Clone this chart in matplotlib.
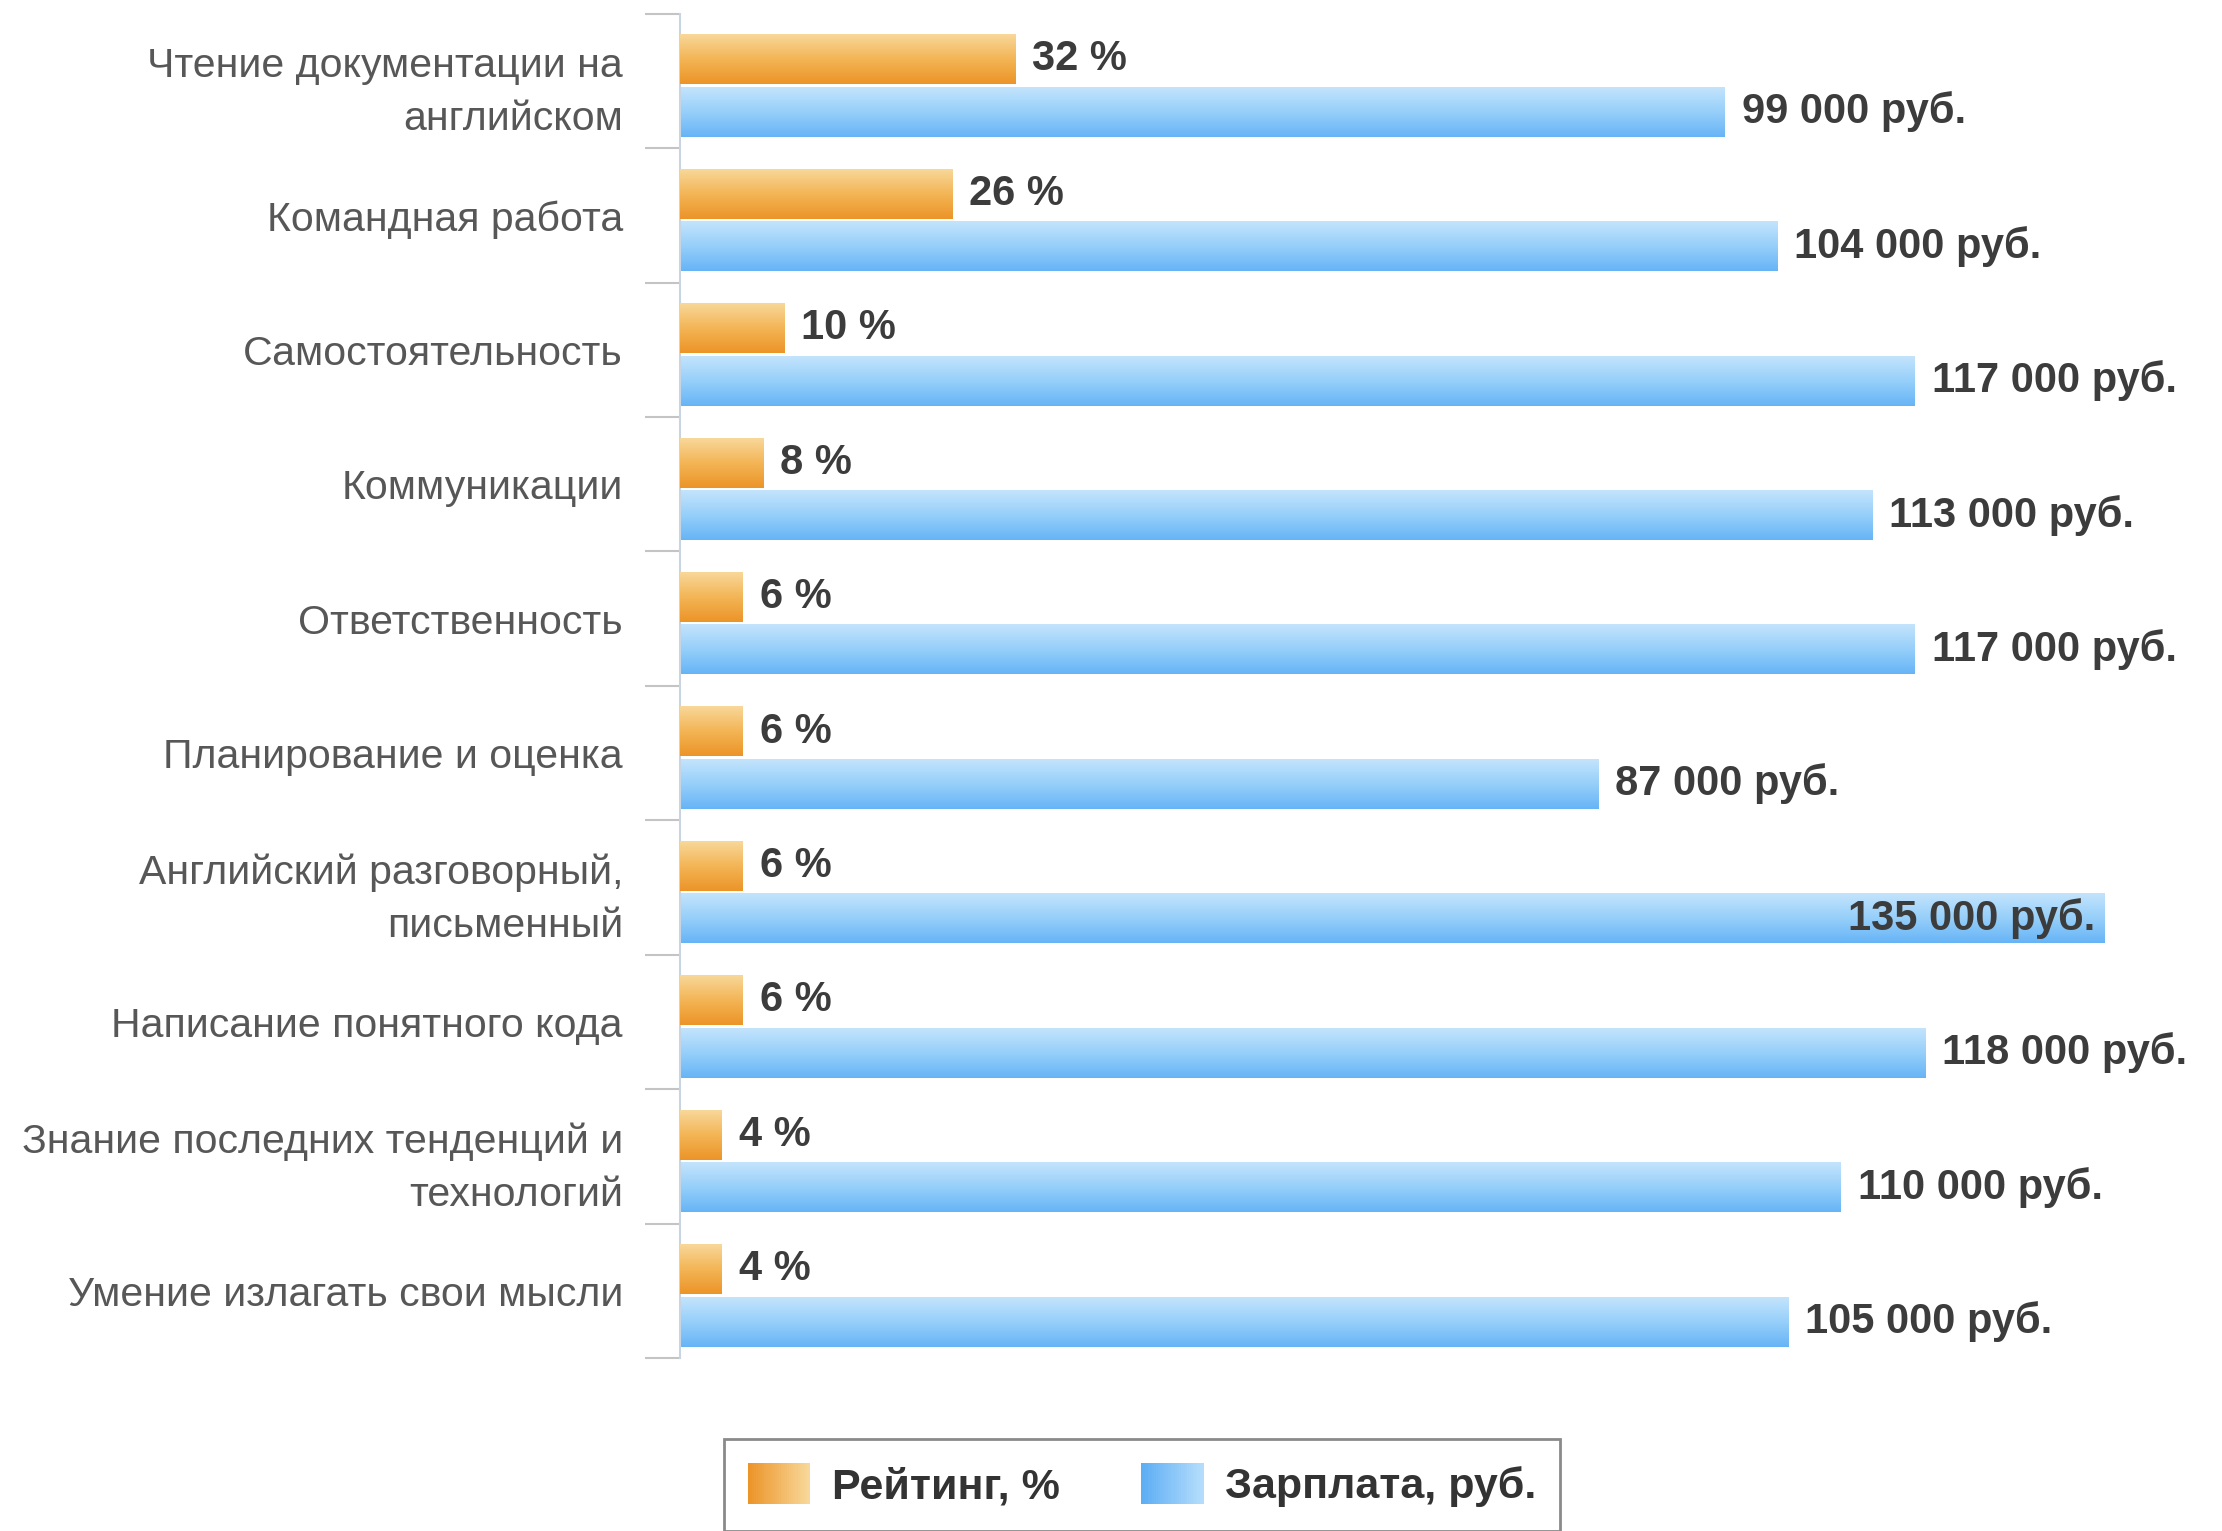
import numpy as np
import matplotlib.pyplot as plt
from matplotlib.colors import LinearSegmentedColormap
from matplotlib.legend_handler import HandlerBase
from matplotlib.patches import Rectangle

plt.rcParams["font.family"] = ["Liberation Sans", "DejaVu Sans"]

skills = [
    "Чтение документации на\nанглийском",
    "Командная работа",
    "Самостоятельность",
    "Коммуникации",
    "Ответственность",
    "Планирование и оценка",
    "Английский разговорный,\nписьменный",
    "Написание понятного кода",
    "Знание последних тенденций и\nтехнологий",
    "Умение излагать свои мысли",
]
rating = [32, 26, 10, 8, 6, 6, 6, 6, 4, 4]
salary = [99000, 104000, 117000, 113000, 117000, 87000, 135000, 118000, 110000, 105000]

orange = ["#f8d89a", "#f3b555", "#ec9428"]
blue = ["#c4e4fc", "#96cffa", "#66b4f6"]

fig = plt.figure(figsize=(22.22, 15.31), dpi=100)
ax = fig.add_axes([0.306, 0.113, 0.684, 0.878])
ax_pct = ax.twiny()

y = np.arange(len(skills))
h = 0.37
bars_sal = ax.barh(y + 0.23, salary, height=h, color="none")
bars_pct = ax_pct.barh(y - 0.16, rating, height=h, color="none")


def fill_gradient(axis, bars, colors):
    cmap = LinearSegmentedColormap.from_list("g", colors)
    grad = np.linspace(0, 1, 256).reshape(-1, 1)
    for b in bars:
        x0, y0 = b.get_x(), b.get_y()
        axis.imshow(grad, cmap=cmap, aspect="auto", origin="upper",
                    extent=(x0, x0 + b.get_width(), y0 + b.get_height(), y0), zorder=2)


fill_gradient(ax, bars_sal, blue)
fill_gradient(ax_pct, bars_pct, orange)

sal_max = 144000
ax.set_xlim(0, sal_max)
ax_pct.set_xlim(0, sal_max / 1000 * 1.008)
ax.set_ylim(len(skills) - 0.5, -0.5)

# подписи значений
lab = dict(fontsize=30, fontweight="bold", color="#3c3c3c", va="center")
for b, v in zip(bars_pct, rating):
    ax_pct.text(v + 1.6, b.get_y() + b.get_height() / 2, f"{v} %", ha="left", **lab)
for b, v in zip(bars_sal, salary):
    txt = f"{v // 1000} 000 руб."
    yc = b.get_y() + b.get_height() / 2
    if v >= 130000:
        ax.text(v - 900, yc, txt, ha="right", zorder=3, **lab)
    else:
        ax.text(v + 1600, yc, txt, ha="left", **lab)

ax.set_yticks(y)
ax.set_yticklabels(skills, fontsize=29.5, color="#575757", linespacing=1.5)
ax.set_yticks(np.arange(-0.5, len(skills), 1), minor=True)
ax.tick_params(axis="y", which="major", length=0, pad=41)
ax.tick_params(axis="y", which="minor", length=25, width=1.5, color="#c4c4c4")
ax.set_xticks([])
ax_pct.set_xticks([])
for s in ["top", "right", "bottom"]:
    ax.spines[s].set_visible(False)
for s in ax_pct.spines.values():
    s.set_visible(False)
ax.spines["left"].set_color("#c8d4e2")
ax.spines["left"].set_linewidth(1.5)


class GradHandler(HandlerBase):
    def __init__(self, colors):
        super().__init__()
        self.cmap = LinearSegmentedColormap.from_list("l", colors)

    def create_artists(self, legend, orig_handle, xdescent, ydescent,
                       width, height, fontsize, trans):
        n = 30
        step = width / n
        arts = []
        for i in range(n):
            arts.append(Rectangle((-xdescent + i * step, -ydescent), step * 1.1, height,
                                  facecolor=self.cmap(i / (n - 1)), edgecolor="none",
                                  transform=trans))
        return arts


p1 = Rectangle((0, 0), 1, 1)
p2 = Rectangle((0, 0), 1, 1)
leg = fig.legend([p1, p2], ["Рейтинг, %", "Зарплата, руб."], loc="center",
                 bbox_to_anchor=(0.514, 0.03), ncol=2,
                 handler_map={p1: GradHandler(["#ec9428", "#f8d89a"]),
                              p2: GradHandler(["#5daef5", "#b5ddfb"])},
                 prop={"weight": "bold", "size": 31}, handlelength=1.45,
                 handleheight=1.1, handletextpad=0.5, columnspacing=1.9,
                 borderpad=0.55, fancybox=False, edgecolor="#8a8a8a", framealpha=1)
for t in leg.get_texts():
    t.set_color("#333333")
leg.get_frame().set_linewidth(2)

fig.savefig("out.png", dpi=100, facecolor="white")
